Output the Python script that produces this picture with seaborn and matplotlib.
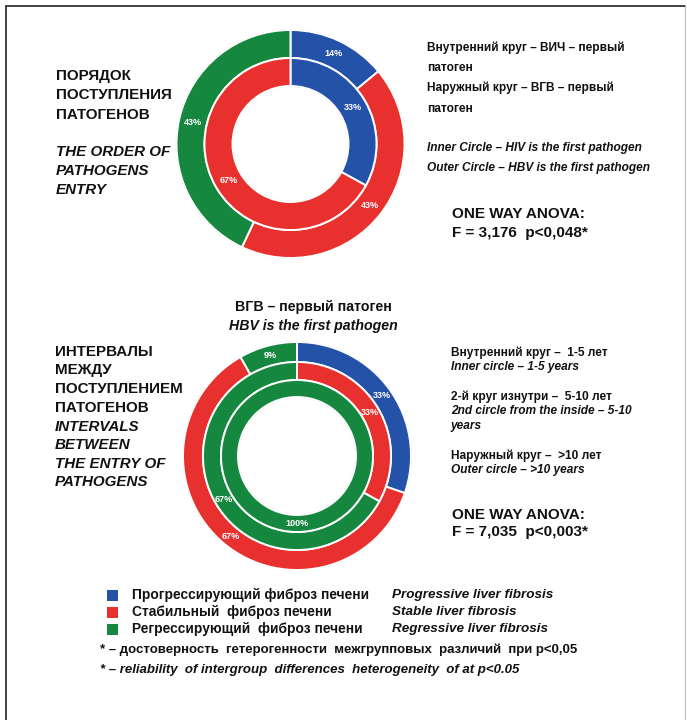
import matplotlib
matplotlib.use("Agg")
import matplotlib.pyplot as plt
from matplotlib.patches import Circle, Rectangle
from matplotlib.lines import Line2D
import numpy as np
import seaborn as sns

# ---- data -------------------------------------------------------------
fibrosis_ru = ["Прогрессирующий фиброз печени",
               "Стабильный  фиброз печени",
               "Регрессирующий  фиброз печени"]
fibrosis_en = ["Progressive liver fibrosis",
               "Stable liver fibrosis",
               "Regressive liver fibrosis"]

# order of pathogen entry (blue, red, green)
hbv_first = [14, 43, 43]      # outer circle
hiv_first = [33, 67, 0]       # inner circle

# intervals between pathogen entry, HBV first (blue, red, green)
over_10_years = [33, 67, 9]   # outer circle
years_5_10 = [0, 33, 67]      # middle circle
years_1_5 = [0, 0, 100]       # inner circle

anova_order = ("3,176", "0,048")
anova_interval = ("7,035", "0,003")

# ---- style ------------------------------------------------------------
sns.set_theme(style="white")
plt.rcParams["font.family"] = ["Liberation Sans", "DejaVu Sans"]
palette = sns.color_palette(["#2452a8", "#e8312e", "#16873f"])

W, H = 687, 720
fig = plt.figure(figsize=(W / 100, H / 100), dpi=100)
fig.patch.set_facecolor("white")


def fx(x):
    return x / W


def fy(y):
    return 1 - y / H


def txt(x, y, s, size, style="normal", weight="bold", **kw):
    fig.text(fx(x), fy(y), s, fontsize=size, fontstyle=style,
             fontweight=weight, color="#111111", va="center", ha="left", **kw)


def donut_axes(cx, cy, r):
    ax = fig.add_axes([fx(cx - r), fy(cy + r), 2 * r / W, 2 * r / H])
    return ax


def ring(ax, values, radius, width, label_size=6.5):
    vals = [v for v in values if v > 0]
    cols = [palette[i] for i, v in enumerate(values) if v > 0]
    wedges, _ = ax.pie(vals, colors=cols, radius=radius, startangle=90,
                       counterclock=False,
                       wedgeprops=dict(width=width, edgecolor="white",
                                       linewidth=1.4))
    rm = radius - width / 2
    for w, v in zip(wedges, vals):
        a = np.deg2rad((w.theta1 + w.theta2) / 2)
        ax.text(rm * np.cos(a), rm * np.sin(a), f"{v}%", color="white",
                fontsize=label_size, fontweight="bold", ha="center",
                va="center")


def finish(ax, radii):
    for r in radii:
        ax.add_patch(Circle((0, 0), r, fill=False, edgecolor="#d9d9d9",
                            linewidth=1.2, zorder=0))
    ax.set_xlim(-1.02, 1.02)
    ax.set_ylim(-1.02, 1.02)
    ax.set_aspect("equal")
    ax.axis("off")


# ---- top donut: order of pathogen entry ----------------------------------
R1 = 114
ax1 = donut_axes(290.5, 144, R1 * 1.02)
ring(ax1, hbv_first, 1.0, 28 / R1)
ring(ax1, hiv_first, 86 / R1, 28 / R1)
finish(ax1, [1.0, 58 / R1])

# ---- bottom donut: intervals ---------------------------------------------
R2 = 114
ax2 = donut_axes(297, 456, R2 * 1.02)
ring(ax2, over_10_years, 1.0, 20 / R2)
ring(ax2, years_5_10, 94 / R2, 18 / R2)
ring(ax2, years_1_5, 76 / R2, 17 / R2)
finish(ax2, [1.0, 59 / R2])

# ---- left titles --------------------------------------------------------
TS = 10.9
for y, s in zip([76, 95, 115], ["ПОРЯДОК", "ПОСТУПЛЕНИЯ", "ПАТОГЕНОВ"]):
    txt(56, y, s, TS)
for y, s in zip([152, 171, 190], ["THE ORDER OF", "PATHOGENS", "ENTRY"]):
    txt(56, y, s, TS, style="italic")

for y, s in zip([352, 370, 389, 408],
                ["ИНТЕРВАЛЫ", "МЕЖДУ", "ПОСТУПЛЕНИЕМ", "ПАТОГЕНОВ"]):
    txt(55, y, s, TS)
for y, s in zip([427, 445, 464, 482],
                ["INTERVALS", "BETWEEN", "THE ENTRY OF", "PATHOGENS"]):
    txt(55, y, s, TS, style="italic")

# ---- middle heading ------------------------------------------------------
fig.text(fx(313), fy(307), "ВГВ – первый патоген", fontsize=10.2,
         fontweight="bold", color="#111111", ha="center", va="center")
fig.text(fx(313), fy(326), "HBV is the first pathogen", fontsize=10.2,
         fontweight="bold", fontstyle="italic", color="#111111",
         ha="center", va="center")

# ---- right notes, top ----------------------------------------------------
NS = 8.6
txt(427, 48, "Внутренний круг – ВИЧ – первый", NS)
txt(427, 68, "патоген", NS)
txt(427, 88, "Наружный круг – ВГВ – первый", NS)
txt(427, 109, "патоген", NS)
txt(427, 148, "Inner Circle – HIV is the first pathogen", NS, style="italic")
txt(427, 168, "Outer Circle – HBV is the first pathogen", NS, style="italic")
txt(452, 214, "ONE WAY ANOVA:", 11)
txt(452, 233, f"F = {anova_order[0]}  p<{anova_order[1]}*", 11)

# ---- right notes, bottom -------------------------------------------------
txt(451, 353, "Внутренний круг –  1-5 лет", NS)
txt(451, 367, "Inner circle – 1-5 years", NS, style="italic")
txt(451, 397, "2-й круг изнутри –  5-10 лет", NS)
txt(451, 411, "2nd circle from the inside – 5-10", NS, style="italic")
txt(451, 426, "years", NS, style="italic")
txt(451, 456, "Наружный круг –  >10 лет", NS)
txt(451, 470, "Outer circle – >10 years", NS, style="italic")
txt(452, 515, "ONE WAY ANOVA:", 11)
txt(452, 532, f"F = {anova_interval[0]}  p<{anova_interval[1]}*", 11)

# ---- legend --------------------------------------------------------------
for i, (ru, en) in enumerate(zip(fibrosis_ru, fibrosis_en)):
    y = 595 + i * 17
    fig.patches.append(Rectangle((fx(107), fy(y + 5.5)), 11 / W, 11 / H,
                                 transform=fig.transFigure,
                                 facecolor=palette[i], edgecolor="none"))
    txt(132, y, ru, 9.9)
    txt(392, y, en, 9.7, style="italic")

txt(100, 650, "* – достоверность  гетерогенности  межгрупповых  различий  при p<0,05", 9.5)
txt(100, 670, "* – reliability  of intergroup  differences  heterogeneity  of at p<0.05",
    9.5, style="italic")

# ---- frame ---------------------------------------------------------------
frame_kw = dict(transform=fig.transFigure, color="#333333", linewidth=1.3)
fig.lines.append(Line2D([fx(6), fx(685)], [fy(6), fy(6)], **frame_kw))
fig.lines.append(Line2D([fx(6), fx(6)], [fy(6), fy(722)], **frame_kw))
fig.lines.append(Line2D([fx(685), fx(685)], [fy(6), fy(722)],
                        transform=fig.transFigure, color="#bbbbbb",
                        linewidth=0.8))

fig.savefig("out.png", dpi=100, facecolor="white")
